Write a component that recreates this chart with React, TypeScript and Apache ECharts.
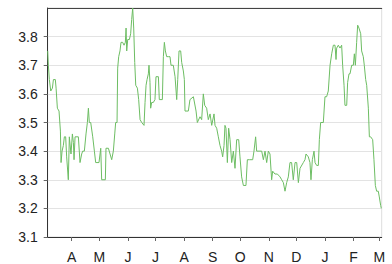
import React, { useEffect, useRef } from "react";
import * as echarts from "echarts";

// Day index counted from 1 March of the first year
const days: number[] = [
  4.9, 5.6, 6.7, 8.2, 10.0, 11.1, 13.2, 14.0, 15.4, 17.2, 18.7, 19.4, 20.5, 21.9, 23.0, 24.4, 25.5, 27.3, 28.4, 30.2,
  31.7, 32.8, 33.5, 34.6, 38.2, 40.0, 41.8, 42.9, 44.7, 46.5, 48.0, 49.1, 50.1, 51.6, 53.8, 55.6, 57.0, 60.6, 62.5, 63.5,
  67.5, 68.2, 70.8, 72.6, 74.4, 76.2, 77.7, 78.7, 80.2, 80.9, 82.0, 83.4, 84.5, 86.3, 87.8, 89.2, 90.0, 90.7, 91.8, 93.6,
  95.0, 96.1, 97.2, 98.3, 99.4, 100.5, 102.3, 103.7, 105.2, 107.0, 109.5, 110.6, 111.7, 112.8, 114.2, 114.9, 116.0, 116.7, 117.8, 119.6,
  121.4, 122.5, 125.1, 126.1, 129.4, 130.5, 131.6, 132.7, 134.1, 135.9, 137.7, 138.8, 141.3, 143.2, 145.0, 146.1, 147.5, 149.3, 150.4, 152.2,
  153.3, 154.0, 157.6, 159.4, 163.1, 166.0, 167.4, 170.3, 172.1, 173.9, 175.4, 177.5, 179.3, 181.2, 183.0, 185.5, 186.6, 188.4, 190.2, 192.0,
  193.8, 194.9, 196.4, 197.4, 198.5, 200.0, 201.4, 202.9, 204.7, 206.5, 208.3, 210.1, 212.3, 213.7, 215.5, 217.4, 220.2, 221.7, 223.9, 227.5,
  228.9, 230.7, 231.8, 235.4, 237.3, 239.1, 240.9, 242.7, 244.5, 246.3, 248.1, 249.2, 251.7, 254.3, 257.2, 259.0, 260.8, 262.6, 264.4, 266.2,
  268.0, 269.8, 271.6, 273.5, 275.3, 277.1, 278.9, 282.5, 284.3, 285.4, 287.9, 289.7, 290.8, 292.3, 294.1, 295.2, 297.0, 298.8, 299.9, 301.3,
  304.2, 306.0, 307.8, 309.6, 311.5, 313.3, 315.1, 316.9, 318.0, 318.7, 320.5, 322.3, 324.1, 325.2, 326.7, 327.7, 329.6, 330.6, 332.1, 333.2,
  335.0, 336.8, 337.9, 339.0, 340.4, 341.5, 342.9, 344.8, 345.8, 347.6, 348.7, 350.2, 351.3, 353.1, 354.2, 355.6, 357.8, 359.2, 360.7, 362.1,
  363.9, 365.0, 366.5, 367.2,
];

const values: number[] = [
  3.75, 3.70, 3.65, 3.61, 3.62, 3.65, 3.65, 3.62, 3.55, 3.54, 3.47, 3.36, 3.40, 3.42, 3.45, 3.45, 3.38, 3.30, 3.45, 3.39,
  3.46, 3.43, 3.37, 3.45, 3.45, 3.36, 3.39, 3.40, 3.40, 3.46, 3.50, 3.55, 3.50, 3.50, 3.45, 3.40, 3.36, 3.36, 3.41, 3.30,
  3.30, 3.41, 3.41, 3.39, 3.37, 3.40, 3.46, 3.50, 3.50, 3.69, 3.73, 3.75, 3.78, 3.78, 3.77, 3.78, 3.83, 3.75, 3.79, 3.79,
  3.81, 3.86, 3.90, 3.83, 3.71, 3.63, 3.62, 3.58, 3.51, 3.50, 3.49, 3.57, 3.63, 3.65, 3.67, 3.70, 3.64, 3.55, 3.57, 3.57,
  3.58, 3.66, 3.66, 3.58, 3.58, 3.73, 3.78, 3.75, 3.73, 3.73, 3.73, 3.70, 3.70, 3.66, 3.58, 3.65, 3.75, 3.75, 3.71, 3.68,
  3.65, 3.54, 3.54, 3.58, 3.59, 3.54, 3.50, 3.52, 3.51, 3.60, 3.56, 3.55, 3.51, 3.53, 3.49, 3.53, 3.49, 3.48, 3.45, 3.42,
  3.40, 3.38, 3.42, 3.49, 3.48, 3.36, 3.48, 3.44, 3.36, 3.40, 3.34, 3.44, 3.44, 3.38, 3.31, 3.28, 3.28, 3.37, 3.37, 3.37,
  3.40, 3.45, 3.40, 3.40, 3.40, 3.37, 3.40, 3.36, 3.40, 3.39, 3.30, 3.33, 3.32, 3.32, 3.31, 3.30, 3.29, 3.26, 3.29, 3.31,
  3.36, 3.36, 3.30, 3.36, 3.36, 3.29, 3.34, 3.36, 3.37, 3.39, 3.38, 3.36, 3.30, 3.37, 3.40, 3.36, 3.35, 3.35, 3.44, 3.50,
  3.50, 3.59, 3.59, 3.61, 3.70, 3.74, 3.77, 3.77, 3.72, 3.76, 3.77, 3.76, 3.77, 3.70, 3.63, 3.56, 3.56, 3.64, 3.67, 3.67,
  3.70, 3.70, 3.74, 3.70, 3.78, 3.84, 3.83, 3.81, 3.75, 3.73, 3.70, 3.65, 3.63, 3.55, 3.45, 3.45, 3.44, 3.37, 3.28, 3.26,
  3.26, 3.24, 3.21, 3.20,
];

// Month starts (day index from 1 March) and their tick labels
const monthStarts: number[] = [31, 61, 92, 122, 153, 184, 214, 245, 275, 306, 337, 365];
const monthLabels: string[] = ["A", "M", "J", "J", "A", "S", "O", "N", "D", "J", "F", "M"];

const X_MIN = 4.9;
const X_MAX = 367.6;
const Y_MIN = 3.1;
const Y_MAX = 3.9;

export default function App() {
  const ref = useRef<HTMLDivElement>(null);

  useEffect(() => {
    if (!ref.current) return;
    const chart = echarts.init(ref.current, null, { renderer: "svg" });
    const font = "'Liberation Sans', Arial, Helvetica, sans-serif";
    chart.setOption({
      animation: false,
      backgroundColor: "#ffffff",
      grid: {
        left: 47.7,
        right: 10.3,
        top: 8,
        bottom: 23,
        show: true,
        borderColor: "#dddddd",
        borderWidth: 1,
        backgroundColor: "transparent",
      },
      xAxis: [
        {
          type: "value",
          min: X_MIN,
          max: X_MAX,
          axisLine: { show: true, lineStyle: { color: "#333333", width: 1 } },
          axisTick: {
            show: true,
            customValues: monthStarts,
            length: 4,
            lineStyle: { color: "#666666" },
          },
          axisLabel: {
            customValues: monthStarts,
            formatter: (v: number) => {
              const i = monthStarts.indexOf(Math.round(v));
              return i >= 0 ? monthLabels[i] : "";
            },
            fontSize: 14,
            color: "#222222",
            fontFamily: font,
            margin: 13,
          },
          splitLine: { show: false },
        },
        {
          type: "value",
          position: "top",
          min: X_MIN,
          max: X_MAX,
          axisLine: { show: true, lineStyle: { color: "#444444", width: 1 } },
          axisTick: { show: false },
          axisLabel: { show: false },
          splitLine: { show: false },
        },
      ],
      yAxis: {
        type: "value",
        min: Y_MIN,
        max: Y_MAX,
        interval: 0.1,
        axisLine: { show: true, lineStyle: { color: "#333333", width: 1 } },
        axisTick: { show: true, length: 4, lineStyle: { color: "#666666" } },
        axisLabel: {
          formatter: (v: number) => v.toFixed(1),
          showMaxLabel: false,
          fontSize: 14,
          color: "#222222",
          fontFamily: font,
          margin: 10,
        },
        splitLine: { show: true, lineStyle: { color: "#e3e3e3", width: 1 } },
      },
      series: [
        {
          type: "line",
          data: days.map((d, i) => [d, values[i]]),
          showSymbol: false,
          symbol: "none",
          lineStyle: { color: "#6dbd63", width: 1 },
          itemStyle: { color: "#6dbd63" },
        },
      ],
    });
    return () => chart.dispose();
  }, []);

  return (
    <div
      ref={ref}
      style={{ position: "fixed", left: 0, top: 0, width: 392, height: 264 }}
    />
  );
}
